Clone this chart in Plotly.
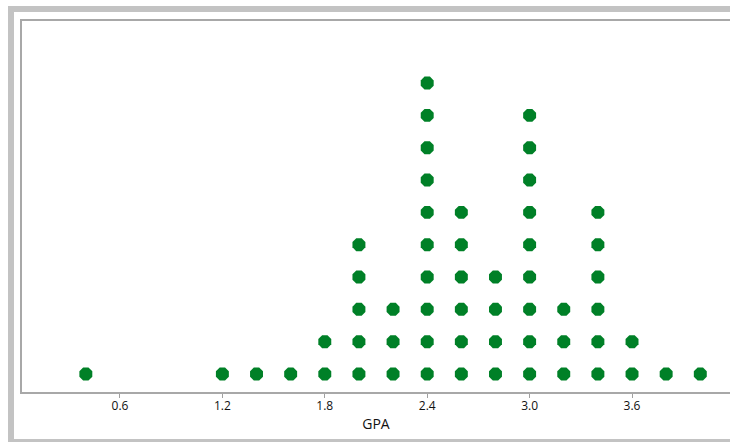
import plotly.graph_objects as go

# GPA dot plot: each dot is one student
gpa_values = [0.4, 1.2, 1.4, 1.6, 1.8, 2.0, 2.2, 2.4, 2.6, 2.8, 3.0, 3.2, 3.4, 3.6, 3.8, 4.0]
counts = [1, 1, 1, 1, 2, 5, 3, 10, 6, 4, 9, 3, 6, 2, 1, 1]
tick_vals = [0.6, 1.2, 1.8, 2.4, 3.0, 3.6]

xs, ys = [], []
for g, c in zip(gpa_values, counts):
    for k in range(1, c + 1):
        xs.append(g)
        ys.append(k)

W, H = 730, 442
L, R, T, B = 22, 0, 21, 50
pw, ph = W - L - R, H - T - B


def px_x(p):
    return (p - L) / pw


def px_y(p):
    return (H - B - p) / ph


fig = go.Figure(
    go.Scatter(
        x=xs, y=ys, mode="markers",
        marker=dict(symbol="octagon", size=14, color="#008027", line=dict(width=0)),
        hoverinfo="x",
    )
)

band = "#c3c3c3"
shapes = [
    # window frame bands (left, top, bottom)
    dict(type="rect", xref="paper", yref="paper", x0=px_x(8), x1=px_x(14), y0=px_y(442), y1=px_y(6),
         fillcolor=band, line_width=0, layer="above"),
    dict(type="rect", xref="paper", yref="paper", x0=px_x(8), x1=px_x(730), y0=px_y(12), y1=px_y(6),
         fillcolor=band, line_width=0, layer="above"),
    dict(type="rect", xref="paper", yref="paper", x0=px_x(8), x1=px_x(730), y0=px_y(442), y1=px_y(439),
         fillcolor=band, line_width=0, layer="above"),
]

fig.update_layout(
    width=W, height=H,
    margin=dict(l=L, r=R, t=T, b=B),
    paper_bgcolor="white", plot_bgcolor="white",
    showlegend=False,
    font=dict(family="Open Sans, Noto Sans, sans-serif", color="#111111"),
    shapes=shapes,
    xaxis=dict(
        range=[0.026, 4.174],
        tickvals=tick_vals, tickformat=".1f",
        ticks="outside", ticklen=4, tickcolor="#a0a0a0",
        tickfont=dict(size=12), ticklabelstandoff=-2,
        showgrid=False, zeroline=False,
        showline=True, linecolor="#a8a8a8", linewidth=2, mirror=True,
        title=dict(text="GPA", font=dict(size=14), standoff=6),
    ),
    yaxis=dict(
        range=[0.443, 11.92],
        showticklabels=False, ticks="", showgrid=False, zeroline=False,
        showline=True, linecolor="#a8a8a8", linewidth=2, mirror=False,
    ),
)

fig.write_html(
    "out.html",
    config={"displayModeBar": False},
    post_script="document.body.style.margin='0px';document.body.style.overflow='hidden';",
)
